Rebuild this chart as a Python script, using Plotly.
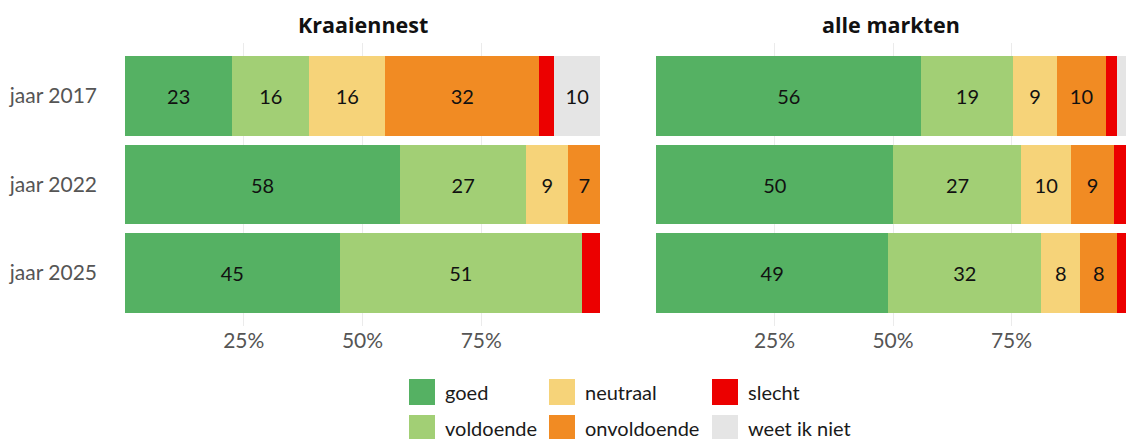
import plotly.graph_objects as go

# ---- data ----
years = ["jaar 2017", "jaar 2022", "jaar 2025"]
panels = ["Kraaiennest", "alle markten"]
categories = ["goed", "voldoende", "neutraal", "onvoldoende", "slecht", "weet ik niet"]
colors = ["#55b163", "#a2cf75", "#f6d379", "#f18b23", "#ec0000", "#e5e5e5"]

kraaiennest = {
    "goed":         [22.6, 57.9, 45.2],
    "voldoende":    [16.2, 26.6, 51.0],
    "neutraal":     [16.0, 8.8, 0.0],
    "onvoldoende":  [32.4, 6.8, 0.0],
    "slecht":       [3.2, 0.0, 3.8],
    "weet ik niet": [9.6, 0.0, 0.0],
}
alle_markten = {
    "goed":         [56.0, 50.1, 49.0],
    "voldoende":    [19.4, 27.0, 32.3],
    "neutraal":     [9.1, 10.4, 8.2],
    "onvoldoende":  [10.5, 9.2, 7.8],
    "slecht":       [2.3, 3.3, 2.7],
    "weet ik niet": [2.7, 0.0, 0.0],
}
tick_vals = [25, 50, 75]
tick_text = ["25%", "50%", "75%"]

W, H = 1126, 439
ML, MR, MT, MB = 125, 0, 43, 113
PW, PH = W - ML - MR, H - MT - MB

FONT = "Lato"
fig = go.Figure()
label_font = dict(family=FONT, size=20, color="#111111")

for pi, data in enumerate([kraaiennest, alle_markten]):
    xa = "x" if pi == 0 else "x2"
    ya = "y" if pi == 0 else "y2"
    for cat, col in zip(categories, colors):
        vals = data[cat]
        txt = [str(int(round(v))) if v >= 5 else "" for v in vals]
        fig.add_trace(go.Bar(
            y=years, x=vals, orientation="h", name=cat,
            marker=dict(color=col, line=dict(width=0)),
            text=txt, textposition="inside", insidetextanchor="middle",
            textfont=label_font, textangle=0,
            width=0.9, showlegend=False, xaxis=xa, yaxis=ya,
            hovertemplate=cat + ": %{x}%<extra></extra>",
        ))

d1_end = 475 / PW
d2_start = 531 / PW
axis_common = dict(
    tickvals=tick_vals, ticktext=tick_text, showgrid=True, gridcolor="#ebebeb",
    gridwidth=1.3, zeroline=False, showline=False, ticks="",
    tickfont=dict(family=FONT, size=21, color="#555555"),
)
fig.update_layout(
    width=W, height=H, barmode="stack", bargap=0.1,
    plot_bgcolor="white", paper_bgcolor="white",
    margin=dict(l=ML, r=MR, t=MT, b=MB, autoexpand=False),
    xaxis=dict(domain=[0, d1_end], range=[0, 100], **axis_common),
    xaxis2=dict(domain=[d2_start, 1], range=[0, 99.15], **axis_common),
    yaxis=dict(range=[2.6, -0.6], showgrid=False, zeroline=False, ticks="",
               tickfont=dict(family=FONT, size=21, color="#555555"), ticklabelstandoff=27),
    yaxis2=dict(range=[2.6, -0.6], showgrid=False, zeroline=False, showticklabels=False,
                anchor="x2", matches="y"),
    uniformtext=dict(mode="show", minsize=10),
)

def px_x(p): return (p - ML) / PW
def px_y(p): return (MT + PH - p) / PH

# facet titles
for pi, name in enumerate(panels):
    cx = (0 + d1_end) / 2 if pi == 0 else (d2_start + 1) / 2
    fig.add_annotation(x=cx, y=px_y(25), xref="paper", yref="paper",
                       text="<b>" + name + "</b>", showarrow=False,
                       xanchor="center", yanchor="middle",
                       font=dict(family="Open Sans", size=21.5, color="#111111"))

# manual legend (column-major layout, 3 columns x 2 rows)
col_x = [409, 549, 712]
row_y = [379, 415]
sw = 26
for i, (cat, col) in enumerate(zip(categories, colors)):
    c, r = i // 2, i % 2
    x0, y0 = col_x[c], row_y[r]
    fig.add_shape(type="rect", xref="paper", yref="paper",
                  x0=px_x(x0), x1=px_x(x0 + sw), y0=px_y(y0), y1=px_y(y0 + sw),
                  fillcolor=col, line=dict(width=0))
    fig.add_annotation(x=px_x(x0 + sw + 8), y=px_y(y0 + sw / 2), xref="paper", yref="paper",
                       text=cat, showarrow=False, xanchor="left", yanchor="middle",
                       font=dict(family=FONT, size=20, color="#1a1a1a"))

fig.write_html("out.html", config={"displayModeBar": False},
               post_script="document.body.style.margin='0px';document.body.style.overflow='hidden';")
